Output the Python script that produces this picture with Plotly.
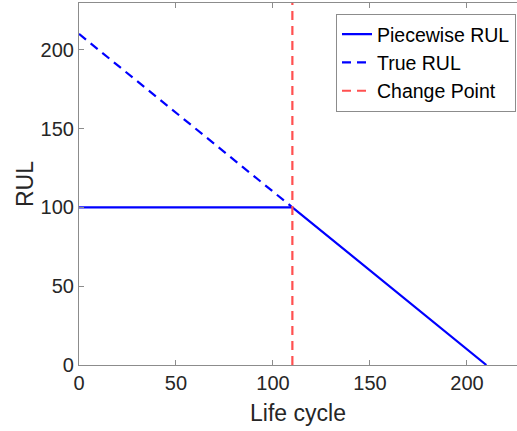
import plotly.graph_objects as go

# Data
piecewise_x = [0, 110, 210]
piecewise_rul = [100, 100, 0]
true_x = [0, 110]
true_rul = [210, 100]
change_point = 110
y_span = [0, 230]
x_ticks = [0, 50, 100, 150, 200]
y_ticks = [0, 50, 100, 150, 200]

FONT = "Liberation Sans, Arial, Helvetica, sans-serif"
TXT = "#262626"
AX = "#8c8c8c"

fig = go.Figure()
fig.add_trace(go.Scatter(x=piecewise_x, y=piecewise_rul, mode="lines",
                         name="Piecewise RUL",
                         line=dict(color="#0000ff", width=2.2)))
fig.add_trace(go.Scatter(x=true_x, y=true_rul, mode="lines", name="True RUL",
                         line=dict(color="#0000ff", width=2.2, dash="9px,6px")))
fig.add_trace(go.Scatter(x=[change_point, change_point], y=y_span, mode="lines",
                         name="Change Point",
                         line=dict(color="#ff5050", width=2.2, dash="9px,6px")))

fig.update_layout(
    width=517, height=431,
    margin=dict(l=79, r=0, t=3, b=66),
    paper_bgcolor="white", plot_bgcolor="white",
    font=dict(family=FONT, color=TXT, size=20),
    showlegend=True,
    legend=dict(x=0.9977, y=0.97, xanchor="right", yanchor="top",
                bgcolor="white", bordercolor=AX, borderwidth=1,
                font=dict(family=FONT, size=19.5, color="#000000"),
                tracegroupgap=0, itemwidth=30),
    xaxis=dict(range=[0, 225.8], tickvals=x_ticks, ticks="inside", ticklen=5,
               tickcolor=AX, showline=True, linecolor=AX, linewidth=1.2,
               mirror="ticks", showgrid=False, zeroline=False,
               tickfont=dict(size=20, color=TXT),
               title=dict(text="Life cycle", font=dict(size=23, color=TXT),
                          standoff=11)),
    yaxis=dict(range=[0, 229.6], tickvals=y_ticks, ticks="inside", ticklen=5,
               tickcolor=AX, showline=True, linecolor=AX, linewidth=1.2,
               mirror=False, showgrid=False, zeroline=False,
               tickfont=dict(size=20, color=TXT),
               title=dict(text="RUL", font=dict(size=23, color=TXT),
                          standoff=0)),
)

fig.write_html("out.html")
